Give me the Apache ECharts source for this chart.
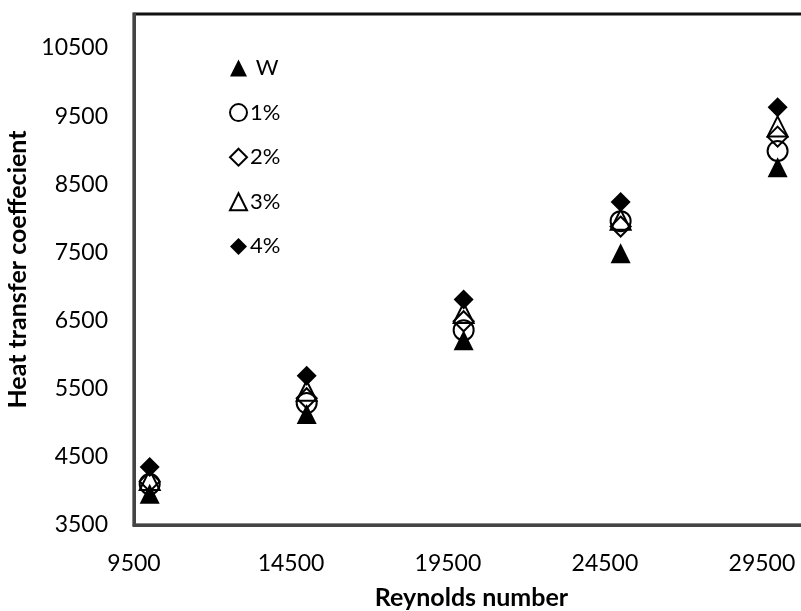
<!DOCTYPE html>
<html>
<head>
<meta charset="utf-8">
<script src="https://cdn.jsdelivr.net/npm/echarts@6/dist/echarts.min.js"></script>
<style>
html,body{margin:0;padding:0;background:#fff;}
#chart{width:801px;height:611px;}
</style>
</head>
<body>
<div id="chart"></div>
<script>
const reynolds = [10000, 15000, 20000, 25000, 30000];
const seriesNames = [' W', '1%', '2%', '3%', '4%'];
const valuesW  = [3960, 5130, 6210, 7490, 8750];
const values1  = [4100, 5290, 6360, 7960, 8990];
const values2  = [4140, 5360, 6490, 7880, 9200];
const values3  = [4160, 5470, 6610, 7980, 9350];
const values4  = [4350, 5690, 6810, 8240, 9630];
const xTitle = 'Reynolds number';
const yTitle = 'Heat transfer coeffecient';

const FONT = 'Lato';
function pts(vals){ return reynolds.map((x,i)=>[x, vals[i]]); }

const solid = {color:'#000', borderWidth:0, opacity:1};
const hollow = {color:'rgba(255,255,255,0)', borderColor:'#000', borderWidth:2, opacity:1};

const defs = [
  {name: seriesNames[0], data: valuesW, symbol:'triangle', style: solid, z: 4},
  {name: seriesNames[1], data: values1, symbol:'circle', style: hollow, z: 2},
  {name: seriesNames[2], data: values2, symbol:'diamond', style: hollow, z: 2},
  {name: seriesNames[3], data: values3, symbol:'triangle', style: hollow, z: 3},
  {name: seriesNames[4], data: values4, symbol:'diamond', style: solid, z: 5}
];

const chart = echarts.init(document.getElementById('chart'), null, {renderer:'canvas'});
chart.setOption({
  animation: false,
  backgroundColor: '#fff',
  textStyle: {fontFamily: FONT},
  grid: {left: 134, top: 14, width: 675, height: 511, show: true, borderColor: '#111', borderWidth: 3,
         backgroundColor: '#fff', containLabel: false, outerBoundsMode: 'none'},
  legend: {
    orient: 'vertical', left: 224, top: 52,
    data: seriesNames,
    itemWidth: 17, itemHeight: 17, itemGap: 22.6,
    textStyle: {fontFamily: FONT, fontSize: 22, color: '#000', padding: [0,0,0,-2]},
    selectedMode: false
  },
  xAxis: {
    type: 'value', min: 9500, max: 31000, interval: 5000,
    name: xTitle, nameLocation: 'middle', nameGap: 60,
    nameTextStyle: {fontFamily: FONT, fontSize: 25, fontWeight: 'bold', color: '#000'},
    axisLine: {show: true, onZero: false, lineStyle: {color: '#444', width: 3}},
    axisTick: {show: false},
    splitLine: {show: false},
    axisLabel: {fontFamily: FONT, fontSize: 23, color: '#000', margin: 27, showMaxLabel: false,
                alignMinLabel: 'center', formatter: v => String(v)}
  },
  yAxis: {
    type: 'value', min: 3500, max: 11000, interval: 1000,
    name: yTitle, nameLocation: 'middle', nameGap: 87,
    nameTextStyle: {fontFamily: FONT, fontSize: 25, fontWeight: 'bold', color: '#000'},
    axisLine: {show: true, onZero: false, lineStyle: {color: '#444', width: 3}},
    axisTick: {show: false},
    splitLine: {show: false},
    axisLabel: {fontFamily: FONT, fontSize: 23, color: '#000', margin: 26, showMaxLabel: false, formatter: v => String(v)}
  },
  series: defs.map(d => ({
    type: 'scatter', name: d.name, data: pts(d.data),
    symbol: d.symbol, symbolSize: 20, itemStyle: d.style, z: d.z
  }))
});
</script>
</body>
</html>
